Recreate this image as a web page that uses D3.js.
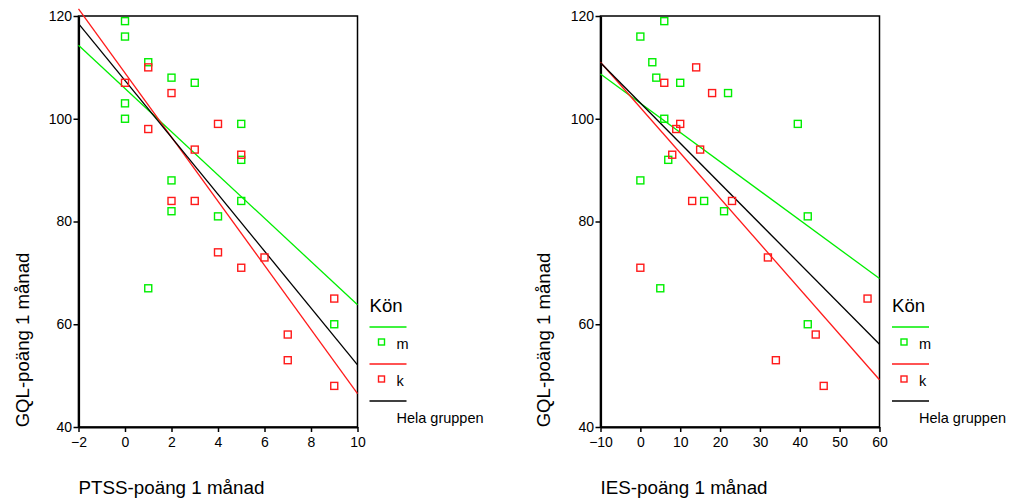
<!DOCTYPE html>
<html>
<head>
<meta charset="utf-8">
<script src="https://cdn.jsdelivr.net/npm/d3@7"></script>
<style>
  html, body { margin: 0; padding: 0; background: #fff; }
  svg { display: block; font-family: "Liberation Sans", Arial, sans-serif; }
</style>
</head>
<body>
<svg id="chart" width="1016" height="499"></svg>
<script>
// ---- data ----
const yTicks = [40, 60, 80, 100, 120];
const legendTitle = "Kön";
const legendLabels = ["m", "k", "Hela gruppen"];
const yTitle = "GQL-poäng 1 månad";

// PTSS panel
const ptssTicks = [-2, 0, 2, 4, 6, 8, 10];
const ptssTitle = "PTSS-poäng 1 månad";
const ptssMen = [[0,119],[0,116],[1,111],[2,108],[3,107],[0,103],[0,100],[5,99],[5,92],[2,88],[5,84],[2,82],[4,81],[1,67],[9,60]];
const ptssWomen = [[0,107],[1,110],[2,105],[1,98],[4,99],[3,94],[5,93],[2,84],[3,84],[4,74],[5,71],[6,73],[9,65],[7,58],[7,53],[9,48]];
// regression lines: value at x-min and x-max of the panel
const ptssFitMen = [114.3, 63.8];
const ptssFitWomen = [121.4, 46.5];
const ptssFitAll = [118.5, 52.1];

// IES panel
const iesTicks = [-10, 0, 10, 20, 30, 40, 50, 60];
const iesTitle = "IES-poäng 1 månad";
const iesMen = [[6,119],[0,116],[3,111],[4,108],[10,107],[22,105],[6,100],[39.5,99],[7,92],[0,88],[16,84],[21,82],[42,81],[5,67],[42,60]];
const iesWomen = [[6,107],[14,110],[18,105],[10,99],[9,98],[15,94],[8,93],[13,84],[23,84],[0,71],[32,73],[57,65],[44,58],[34,53],[46,48]];
const iesFitMen = [108.7, 68.9];
const iesFitWomen = [111.0, 49.2];
const iesFitAll = [110.9, 56.1];

const GREEN = "#00ee00";
const RED = "#ff1a1a";
const BLACK = "#000";
const FONT = "Liberation Sans, Arial, sans-serif";

const svg = d3.select("#chart");
const y = d3.scaleLinear().domain([40, 120]).range([427, 16]);

function panel(opts) {
  const x = d3.scaleLinear().domain(opts.domain).range(opts.range);
  const g = svg.append("g");
  const [x0, x1] = opts.range;
  const [yb, yt] = y.range();

  // plot frame
  g.append("rect").attr("x", x0).attr("y", yt).attr("width", x1 - x0).attr("height", yb - yt)
    .attr("fill", "none").attr("stroke", "#000").attr("stroke-width", 1.5);

  // axes
  const ax = g.append("g").attr("transform", `translate(0,${yb})`)
    .call(d3.axisBottom(x).tickValues(opts.ticks).tickSize(5).tickSizeOuter(0).tickPadding(5));
  const ay = g.append("g").attr("transform", `translate(${x0},0)`)
    .call(d3.axisLeft(y).tickValues(yTicks).tickSize(5).tickSizeOuter(0).tickPadding(1.5));
  [ax, ay].forEach(a => {
    a.select(".domain").attr("stroke", "#000").attr("stroke-width", 2.2);
    a.selectAll(".tick line").attr("stroke", "#000").attr("stroke-width", 1.5);
    a.selectAll(".tick text").attr("font-size", 14).attr("fill", "#000").attr("font-family", FONT);
  });

  // regression lines
  const line = d3.line().x(d => x(d[0])).y(d => y(d[1]));
  const fits = [[opts.fitMen, GREEN], [opts.fitWomen, RED], [opts.fitAll, BLACK]];
  fits.forEach(([f, c]) => {
    g.append("path")
      .datum([[opts.domain[0], f[0]], [opts.domain[1], f[1]]])
      .attr("d", line).attr("fill", "none").attr("stroke", c).attr("stroke-width", 1.3);
  });

  // points
  const sq = 7;
  [[opts.men, GREEN], [opts.women, RED]].forEach(([pts, c]) => {
    g.selectAll(null).data(pts).enter().append("rect")
      .attr("x", d => x(d[0]) - sq / 2).attr("y", d => y(d[1]) - sq / 2)
      .attr("width", sq).attr("height", sq)
      .attr("fill", "none").attr("stroke", c).attr("stroke-width", 1.4);
  });

  // axis titles
  g.append("text").attr("x", x0).attr("y", 494).attr("font-size", 18.8).text(opts.xTitle);
  g.append("text").attr("transform", `translate(${opts.yTitleX},340) rotate(-90)`)
    .attr("text-anchor", "middle").attr("font-size", 18.6).text(yTitle);

  // legend
  const lx = opts.legendX;
  const lg = g.append("g");
  lg.append("text").attr("x", lx).attr("y", 311.5).attr("font-size", 18.6).text(legendTitle);
  const rows = [[GREEN, 327, true], [RED, 364, true], [BLACK, 401, false]];
  rows.forEach(([c, ly, marker], i) => {
    lg.append("line").attr("x1", lx).attr("x2", lx + 37).attr("y1", ly).attr("y2", ly)
      .attr("stroke", c).attr("stroke-width", 1.3);
    if (marker) {
      lg.append("rect").attr("x", lx + 9).attr("y", ly + 12).attr("width", 6).attr("height", 6)
        .attr("fill", "none").attr("stroke", c).attr("stroke-width", 1.4);
    }
    lg.append("text").attr("x", lx + 27).attr("y", ly + 22).attr("font-size", 14.5).text(legendLabels[i]);
  });
}

panel({
  domain: [-2, 10], range: [78.5, 357.5], ticks: ptssTicks,
  men: ptssMen, women: ptssWomen,
  fitMen: ptssFitMen, fitWomen: ptssFitWomen, fitAll: ptssFitAll,
  xTitle: ptssTitle, yTitleX: 29, legendX: 369.5
});
panel({
  domain: [-10, 60], range: [600.5, 879.5], ticks: iesTicks,
  men: iesMen, women: iesWomen,
  fitMen: iesFitMen, fitWomen: iesFitWomen, fitAll: iesFitAll,
  xTitle: iesTitle, yTitleX: 550, legendX: 892
});
</script>
</body>
</html>
